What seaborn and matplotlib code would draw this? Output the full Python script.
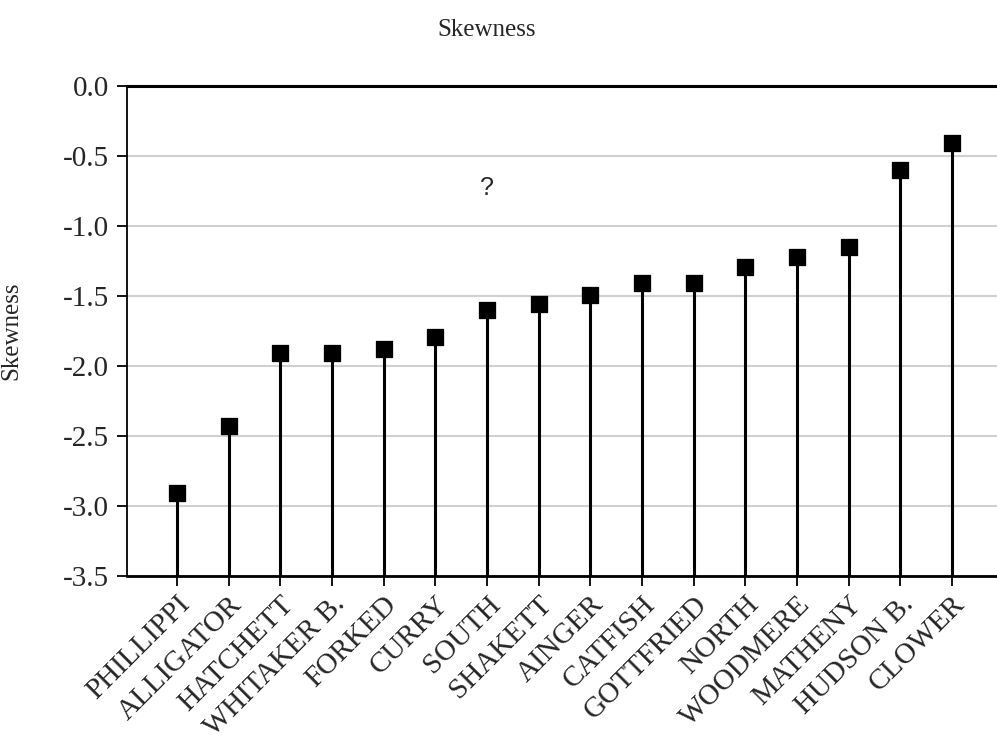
import matplotlib
matplotlib.use("Agg")
import pandas as pd
import matplotlib.pyplot as plt
import seaborn as sns

# ---------------------------------
# Data
# ---------------------------------

lakes = [
    "PHILLIPPI", "ALLIGATOR", "HATCHETT", "WHITAKER B.", "FORKED",
    "CURRY", "SOUTH", "SHAKETT", "AINGER", "CATFISH",
    "GOTTFRIED", "NORTH", "WOODMERE", "MATHENY", "HUDSON B.", "CLOWER",
]

skewness = [
    -2.91, -2.43, -1.91, -1.91, -1.88,
    -1.79, -1.60, -1.56, -1.49, -1.41,
    -1.41, -1.29, -1.22, -1.15, -0.60, -0.41,
]

y_ticks = [0.0, -0.5, -1.0, -1.5, -2.0, -2.5, -3.0, -3.5]

df = pd.DataFrame({"lake": lakes, "skewness": skewness})

# ---------------------------------
# Style
# ---------------------------------

sns.set_style("white")
plt.rcParams["font.family"] = ["Liberation Serif", "DejaVu Serif"]

fig = plt.figure(figsize=(9.97, 7.38), dpi=100)
ax = fig.add_axes([0.1274, 0.2195, 0.8726, 0.664])

# ---------------------------------
# Stems + square markers
# ---------------------------------

x_pos = range(len(df))
ax.vlines(x_pos, -3.5, df["skewness"], color="black", linewidth=2.2, zorder=3)

sns.scatterplot(
    data=df,
    x="lake",
    y="skewness",
    marker="s",
    s=135,
    color="black",
    edgecolor="black",
    zorder=4,
    ax=ax,
    legend=False,
)

# ---------------------------------
# Axes, grid, ticks
# ---------------------------------

ax.set_ylim(-3.5, 0.0)
ax.set_xlim(-0.97, 15.87)
ax.set_yticks(y_ticks)
ax.set_yticklabels([f"{v:.1f}" for v in y_ticks], fontsize=21)

ax.yaxis.grid(True, color="#d0d0d0", linewidth=1.5)
ax.xaxis.grid(False)
ax.set_axisbelow(True)

for side in ["left", "bottom", "top"]:
    ax.spines[side].set_color("black")
ax.spines["left"].set_linewidth(1.3)
ax.spines["bottom"].set_linewidth(2.0)
ax.spines["top"].set_linewidth(2.2)
ax.spines["right"].set_visible(False)

ax.tick_params(axis="both", direction="out", length=7, width=1.3,
               color="black", bottom=True, left=True)
ax.tick_params(axis="y", pad=6)
ax.tick_params(axis="x", pad=4)

plt.setp(ax.get_xticklabels(), rotation=45, ha="right",
         rotation_mode="anchor", fontsize=21)

# ---------------------------------
# Labels and annotation
# ---------------------------------

ax.set_xlabel("")
ax.set_ylabel("Skewness", fontsize=18)
ax.yaxis.set_label_coords(-0.1207, 0.5)

fig.text(0.488, 0.959, "Skewness", fontsize=18, ha="center", va="center")

ax.text(lakes.index("SOUTH"), -0.73, "?", fontsize=18, ha="center",
        va="center", family=["Liberation Sans", "DejaVu Sans"])

plt.savefig("out.png", dpi=100)
